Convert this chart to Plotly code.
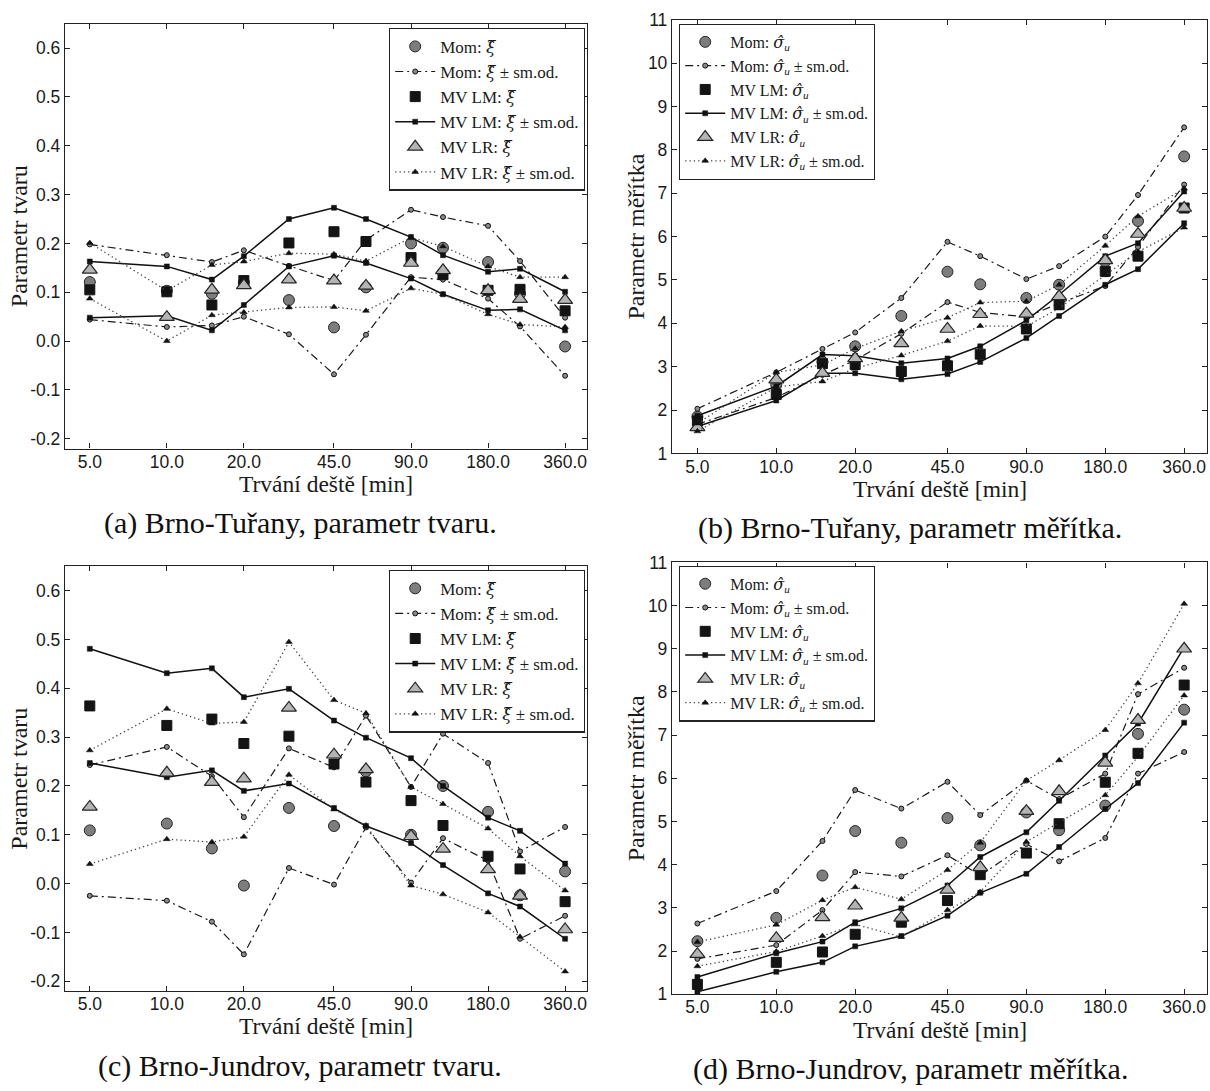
import plotly.graph_objects as go

# ---------------- data ----------------
durations = [5, 10, 15, 20, 30, 45, 60, 90, 120, 180, 240, 360]
x_tick_vals = [5, 10, 20, 45, 90, 180, 360]
x_tick_text = ["5.0", "10.0", "20.0", "45.0", "90.0", "180.0", "360.0"]

# (a) Brno-Tuřany, shape parameter
a_mom_est = [0.121, 0.103, 0.097, 0.120, 0.084, 0.028, 0.110, 0.200, 0.191, 0.162, 0.097, -0.011]
a_mom_up = [0.198, 0.176, 0.162, 0.186, 0.154, 0.124, 0.207, 0.269, 0.254, 0.236, 0.164, 0.048]
a_mom_lo = [0.044, 0.029, 0.032, 0.050, 0.014, -0.068, 0.013, 0.131, 0.126, 0.087, 0.030, -0.071]
a_lm_est = [0.105, 0.101, 0.074, 0.124, 0.201, 0.224, 0.204, 0.171, 0.136, 0.104, 0.106, 0.062]
a_lm_up = [0.163, 0.153, 0.126, 0.174, 0.250, 0.273, 0.250, 0.213, 0.176, 0.142, 0.148, 0.101]
a_lm_lo = [0.048, 0.052, 0.022, 0.074, 0.153, 0.175, 0.160, 0.128, 0.096, 0.063, 0.065, 0.022]
a_lr_est = [0.146, 0.049, 0.105, 0.114, 0.126, 0.124, 0.113, 0.160, 0.145, 0.104, 0.086, 0.084]
a_lr_up = [0.201, 0.103, 0.156, 0.163, 0.180, 0.178, 0.164, 0.212, 0.194, 0.153, 0.131, 0.131]
a_lr_lo = [0.087, 0.000, 0.053, 0.059, 0.069, 0.070, 0.062, 0.108, 0.096, 0.055, 0.034, 0.029]

# (b) Brno-Tuřany, scale parameter
b_mom_est = [1.85, 2.58, 3.11, 3.47, 4.17, 5.19, 4.90, 4.585, 4.89, 5.43, 6.36, 7.85]
b_mom_up = [2.03, 2.87, 3.41, 3.79, 4.585, 5.88, 5.55, 5.02, 5.32, 6.00, 6.96, 8.52]
b_mom_lo = [1.67, 2.29, 2.81, 3.15, 3.76, 4.49, 4.25, 4.15, 4.46, 4.86, 5.76, 7.20]
b_lm_est = [1.75, 2.36, 3.07, 3.05, 2.89, 3.02, 3.29, 3.87, 4.43, 5.20, 5.55, 6.66]
b_lm_up = [1.87, 2.55, 3.28, 3.25, 3.08, 3.19, 3.47, 4.07, 4.66, 5.55, 5.85, 7.04]
b_lm_lo = [1.62, 2.22, 2.85, 2.85, 2.71, 2.83, 3.11, 3.66, 4.17, 4.89, 5.25, 6.31]
b_lr_est = [1.60, 2.70, 2.85, 3.19, 3.54, 3.87, 4.21, 4.22, 4.62, 5.45, 6.06, 6.66]
b_lr_up = [1.69, 2.87, 3.04, 3.42, 3.82, 4.13, 4.48, 4.51, 4.89, 5.79, 6.47, 7.11]
b_lr_lo = [1.51, 2.53, 2.66, 2.96, 3.26, 3.59, 3.94, 3.93, 4.35, 5.11, 5.65, 6.21]

# (c) Brno-Jundrov, shape parameter
c_mom_est = [0.109, 0.123, 0.072, -0.004, 0.155, 0.118, 0.230, 0.100, 0.200, 0.147, -0.024, 0.025]
c_mom_up = [0.243, 0.280, 0.220, 0.136, 0.277, 0.238, 0.344, 0.198, 0.307, 0.247, 0.066, 0.116]
c_mom_lo = [-0.025, -0.035, -0.078, -0.145, 0.032, -0.002, 0.115, 0.002, 0.093, 0.047, -0.113, -0.066]
c_lm_est = [0.364, 0.324, 0.337, 0.287, 0.302, 0.245, 0.208, 0.170, 0.119, 0.056, 0.030, -0.037]
c_lm_up = [0.481, 0.431, 0.441, 0.382, 0.399, 0.334, 0.299, 0.257, 0.200, 0.135, 0.108, 0.041]
c_lm_lo = [0.247, 0.218, 0.232, 0.190, 0.205, 0.155, 0.118, 0.083, 0.038, -0.020, -0.047, -0.113]
c_lr_est = [0.157, 0.227, 0.208, 0.215, 0.360, 0.264, 0.234, 0.097, 0.071, 0.029, -0.025, -0.094]
c_lr_up = [0.273, 0.358, 0.328, 0.331, 0.495, 0.376, 0.349, 0.198, 0.163, 0.113, 0.056, -0.014]
c_lr_lo = [0.040, 0.091, 0.085, 0.096, 0.223, 0.152, 0.119, -0.004, -0.022, -0.059, -0.109, -0.180]

# (d) Brno-Jundrov, scale parameter
d_mom_est = [2.23, 2.77, 3.75, 4.78, 4.51, 5.08, 4.45, 5.21, 4.80, 5.37, 7.03, 7.59]
d_mom_up = [2.64, 3.39, 4.55, 5.73, 5.30, 5.92, 5.15, 5.95, 5.52, 6.11, 7.95, 8.56]
d_mom_lo = [1.82, 2.14, 2.95, 3.83, 3.73, 4.22, 3.75, 4.48, 4.08, 4.62, 6.11, 6.61]
d_lm_est = [1.23, 1.74, 1.98, 2.39, 2.67, 3.17, 3.77, 4.27, 4.95, 5.91, 6.58, 8.16]
d_lm_up = [1.40, 1.95, 2.22, 2.67, 2.99, 3.52, 4.18, 4.75, 5.48, 6.53, 7.27, 9.03]
d_lm_lo = [1.06, 1.52, 1.74, 2.11, 2.35, 2.82, 3.35, 3.79, 4.41, 5.29, 5.89, 7.29]
d_lr_est = [1.93, 2.30, 2.78, 3.05, 2.77, 3.42, 3.94, 5.24, 5.70, 6.36, 7.35, 9.00]
d_lr_up = [2.21, 2.61, 3.18, 3.48, 3.20, 3.88, 4.51, 5.95, 6.42, 7.12, 8.20, 10.04]
d_lr_lo = [1.65, 1.99, 2.35, 2.62, 2.33, 2.95, 3.37, 4.53, 4.98, 5.61, 6.50, 7.92]

shape_ticks = [-0.2, -0.1, 0.0, 0.1, 0.2, 0.3, 0.4, 0.5, 0.6]
scale_ticks = [1, 2, 3, 4, 5, 6, 7, 8, 9, 10, 11]

captions = ["(a) Brno-Tuřany, parametr tvaru.", "(b) Brno-Tuřany, parametr měřítka.",
            "(c) Brno-Jundrov, parametr tvaru.", "(d) Brno-Jundrov, parametr měřítka."]
x_title = "Trvání deště [min]"
y_titles = ["Parametr tvaru", "Parametr měřítka", "Parametr tvaru", "Parametr měřítka"]
sym_xi = "<span style=\"font-family:'DejaVu Serif'\"><i>ξ̂</i></span>"
sym_sigma = "<span style=\"font-family:'DejaVu Serif'\"><i>σ̂</i></span><sub><i>u</i></sub>"

# ---------------- layout helpers ----------------
W, H = 1210, 1091
SERIF = "Liberation Serif, Times New Roman, serif"
SANS = "Liberation Sans, Arial, sans-serif"


def px(x):
    return x / W


def py(y):
    return 1 - y / H


panels = [
    dict(ax="", x0=65, x1=587.4, y0=14, y1=446.7, yr=[-0.22, 0.65], yt=shape_ticks, fmt="{:.1f}",
         sym=sym_xi, legend="legend", data=(a_mom_est, a_mom_up, a_mom_lo, a_lm_est, a_lm_up, a_lm_lo, a_lr_est, a_lr_up, a_lr_lo)),
    dict(ax="2", x0=672, x1=1207, y0=10, y1=451.7, yr=[1, 11], yt=scale_ticks, fmt="{:d}",
         sym=sym_sigma, legend="legend2", data=(b_mom_est, b_mom_up, b_mom_lo, b_lm_est, b_lm_up, b_lm_lo, b_lr_est, b_lr_up, b_lr_lo)),
    dict(ax="3", x0=65, x1=587.4, y0=566.7, y1=999.3, yr=[-0.22, 0.65], yt=shape_ticks, fmt="{:.1f}",
         sym=sym_xi, legend="legend3", data=(c_mom_est, c_mom_up, c_mom_lo, c_lm_est, c_lm_up, c_lm_lo, c_lr_est, c_lr_up, c_lr_lo)),
    dict(ax="4", x0=672, x1=1207, y0=562.7, y1=1002.7, yr=[1, 11], yt=scale_ticks, fmt="{:d}",
         sym=sym_sigma, legend="legend4", data=(d_mom_est, d_mom_up, d_mom_lo, d_lm_est, d_lm_up, d_lm_lo, d_lr_est, d_lr_up, d_lr_lo)),
]

fig = go.Figure()

est_styles = [
    ("Mom", dict(symbol="circle", size=11, color="#7d7d7d", line=dict(color="#262626", width=1))),
    ("MV LM", dict(symbol="square", size=10, color="#141414", line=dict(color="#141414", width=1))),
    ("MV LR", dict(symbol="triangle-up", size=13, color="#b4b4b4", line=dict(color="#262626", width=1.2))),
]
band_styles = [
    (dict(color="#1a1a1a", width=1.2, dash="8px,4px,2px,4px"),
     dict(symbol="circle", size=5, color="#8a8a8a", line=dict(color="#111", width=1))),
    (dict(color="#111", width=1.5, dash="solid"),
     dict(symbol="square", size=5, color="#111", line=dict(color="#111", width=0.5))),
    (dict(color="#444", width=1.3, dash="1.3px,3px"),
     dict(symbol="triangle-up", size=6, color="#111", line=dict(color="#111", width=0.5))),
]

for p in panels:
    xa, ya = "x" + p["ax"], "y" + p["ax"]
    d = p["data"]
    for k in range(3):
        name, mk = est_styles[k]
        est, up, lo = d[3 * k], d[3 * k + 1], d[3 * k + 2]
        fig.add_trace(go.Scatter(x=durations, y=est, mode="markers", marker=mk,
                                 name=f"{name}: {p['sym']}", xaxis=xa, yaxis=ya,
                                 legend=p["legend"], showlegend=True))
        ln, smk = band_styles[k]
        for j, band in enumerate((up, lo)):
            fig.add_trace(go.Scatter(x=durations, y=band, mode="lines+markers", line=ln, marker=smk,
                                     name=f"{name}: {p['sym']} ± sm.od.", xaxis=xa, yaxis=ya,
                                     legend=p["legend"], showlegend=(j == 0)))

layout = dict(width=W, height=H, margin=dict(l=0, r=0, t=0, b=0),
              paper_bgcolor="white", plot_bgcolor="white", font=dict(family=SERIF, color="#1a1a1a"))

axis_common = dict(showline=True, linecolor="#222", linewidth=1.3, mirror="allticks",
                   ticks="inside", ticklen=5, tickwidth=1, tickcolor="#222", showgrid=False,
                   zeroline=False, tickfont=dict(family=SANS, size=17.5, color="#1a1a1a"))

annotations = []
for i, p in enumerate(panels):
    sfx = p["ax"]
    layout["xaxis" + sfx] = dict(axis_common, type="log", range=[0.60206, 2.6435],
                                 domain=[px(p["x0"]), px(p["x1"])], anchor="y" + sfx,
                                 tickvals=x_tick_vals, ticktext=x_tick_text, ticklabelstandoff=-3)
    layout["yaxis" + sfx] = dict(axis_common, range=p["yr"], domain=[py(p["y1"]), py(p["y0"])],
                                 anchor="x" + sfx, tickvals=p["yt"],
                                 ticktext=[p["fmt"].format(v) for v in p["yt"]])
    cx = (p["x0"] + p["x1"]) / 2
    annotations.append(dict(text=x_title, x=px(cx), y=py(p["y1"] + 36), xref="paper", yref="paper",
                            showarrow=False, xanchor="center", yanchor="middle",
                            font=dict(family=SERIF, size=23.5, color="#1a1a1a")))
    ylx = 19 if p["x0"] < 300 else 636
    annotations.append(dict(text=y_titles[i], x=px(ylx), y=py((p["y0"] + p["y1"]) / 2), xref="paper",
                            yref="paper", showarrow=False, textangle=-90, xanchor="center", yanchor="middle",
                            font=dict(family=SERIF, size=24, color="#1a1a1a")))
    capx = 300 if p["x0"] < 300 else 910
    annotations.append(dict(text=captions[i], x=px(capx), y=py(p["y1"] + 76), xref="paper", yref="paper",
                            showarrow=False, xanchor="center", yanchor="middle",
                            font=dict(family=SERIF, size=30, color="#111")))

legend_a = dict(bgcolor="white", bordercolor="#222", borderwidth=1.2, itemwidth=40,
                font=dict(family=SERIF, size=17, color="#1a1a1a"), tracegroupgap=0)
legend_b = dict(legend_a, font=dict(family=SERIF, size=16, color="#1a1a1a"))
layout["legend"] = dict(legend_a, x=px(585), y=py(18), xanchor="right", yanchor="top")
layout["legend2"] = dict(legend_b, x=px(679), y=py(14), xanchor="left", yanchor="top")
layout["legend3"] = dict(legend_a, x=px(585), y=py(570), xanchor="right", yanchor="top")
layout["legend4"] = dict(legend_b, x=px(679), y=py(566), xanchor="left", yanchor="top")
layout["annotations"] = annotations

fig.update_layout(**layout)
fig.write_html("out.html")
